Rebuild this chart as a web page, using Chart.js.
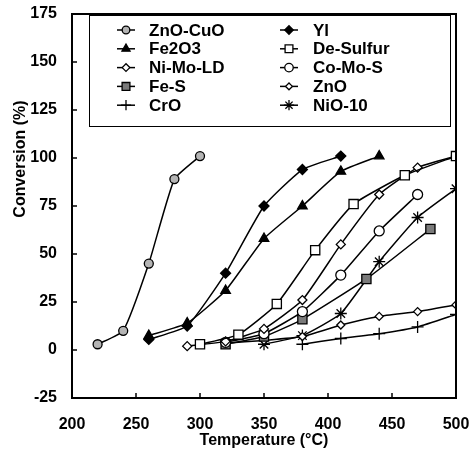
<!DOCTYPE html>
<html>
<head>
<meta charset="utf-8">
<script src="https://cdn.jsdelivr.net/npm/chart.js@4/dist/chart.umd.min.js"></script>
<style>
	html, body { margin: 0; padding: 0; background: #fff; }
</style>
</head>
<body>
<canvas id="conversion_chart" width="470" height="458"></canvas>
<script>
/* temperatures (C) and conversions (%) */
var tZnOCuO = [220, 240, 260, 280, 300];
var cZnOCuO = [3, 10, 45, 89, 101];
var tYl = [260, 290, 320, 350, 380, 410];
var cYl = [5.5, 12.5, 40, 75, 94, 101];
var tFe2O3 = [260, 290, 320, 350, 380, 410, 440];
var cFe2O3 = [7.5, 14, 31, 58, 75, 93, 101];
var tDeSulfur = [300, 330, 360, 390, 420, 460, 500];
var cDeSulfur = [3, 8, 24, 52, 76, 91, 101];
var tNiMoLD = [290, 320, 350, 380, 410, 440, 470, 500];
var cNiMoLD = [2, 4.5, 11, 26, 55, 81, 95, 101];
var tCoMoS = [320, 350, 380, 410, 440, 470];
var cCoMoS = [4, 8.5, 20, 39, 62, 81];
var tFeS = [320, 350, 380, 430, 480];
var cFeS = [3, 7, 16, 37, 63];
var tZnO = [320, 350, 380, 410, 440, 470, 500];
var cZnO = [3.5, 5, 7, 13, 17.5, 20, 23.5];
var tCrO = [380, 410, 440, 470, 500];
var cCrO = [3, 6, 8.5, 12, 18.5];
var tNiO10 = [350, 380, 410, 440, 470, 500];
var cNiO10 = [3, 7.5, 19, 46, 69, 84];

var xTicks = [200, 250, 300, 350, 400, 450, 500];
var yTicks = [-25, 0, 25, 50, 75, 100, 125, 150, 175];

function toPoints(xs, ys) {
	var pts = [];
	for (var i = 0; i < xs.length; i++) {
		pts.push({x: xs[i], y: ys[i]});
	}
	return pts;
}

function makeSet(label, xs, ys, style, radius, fill) {
	return {
		label: label,
		data: toPoints(xs, ys),
		showLine: true,
		tension: 0.15,
		borderColor: '#000',
		borderWidth: 1.5,
		pointStyle: style,
		pointRadius: radius,
		pointBackgroundColor: fill,
		pointBorderColor: '#000',
		pointBorderWidth: 1.3
	};
}

var datasets = [
	makeSet('ZnO-CuO', tZnOCuO, cZnOCuO, 'circle', 4.5, '#b4b4b4'),
	makeSet('Yl', tYl, cYl, 'rectRot', 5, '#000'),
	makeSet('Fe2O3', tFe2O3, cFe2O3, 'triangle', 5.5, '#000'),
	makeSet('De-Sulfur', tDeSulfur, cDeSulfur, 'rect', 6.5, '#fff'),
	makeSet('Ni-Mo-LD', tNiMoLD, cNiMoLD, 'rectRot', 4.5, '#fff'),
	makeSet('Co-Mo-S', tCoMoS, cCoMoS, 'circle', 5, '#fff'),
	makeSet('Fe-S', tFeS, cFeS, 'rect', 6.5, '#7a7a7a'),
	makeSet('ZnO', tZnO, cZnO, 'rectRot', 4, '#fff'),
	makeSet('CrO', tCrO, cCrO, 'cross', 6, '#000'),
	makeSet('NiO-10', tNiO10, cNiO10, 'star', 6, '#000')
];

function noOverhang(scale) {
	scale.paddingLeft = 0;
	scale.paddingRight = 0;
	scale.paddingTop = 0;
	scale.paddingBottom = 0;
}

/* frame, inward ticks, legend box and y title */
var framePlugin = {
	id: 'framePlugin',
	afterDraw: function (chart) {
		var ctx = chart.ctx;
		var area = chart.chartArea;
		var xs = chart.scales.x;
		var ys = chart.scales.y;
		ctx.save();
		ctx.strokeStyle = '#000';
		ctx.lineWidth = 2;
		ctx.strokeRect(area.left, area.top, area.right - area.left, area.bottom - area.top);

		ctx.lineWidth = 1.5;
		ctx.beginPath();
		xTicks.forEach(function (v) {
			var px = xs.getPixelForValue(v);
			ctx.moveTo(px, area.bottom);
			ctx.lineTo(px, area.bottom - 5);
		});
		yTicks.forEach(function (v) {
			var py = ys.getPixelForValue(v);
			ctx.moveTo(area.left, py);
			ctx.lineTo(area.left + 5, py);
		});
		ctx.stroke();

		// legend
		ctx.lineWidth = 1;
		ctx.strokeRect(89.5, 15.5, 361, 111);
		ctx.font = 'bold 17px "Liberation Sans", Arial, sans-serif';
		ctx.textBaseline = 'middle';
		ctx.textAlign = 'left';
		var lineX = [[117, 135], [280, 298]];
		var textX = [149, 313];
		chart.data.datasets.forEach(function (ds, i) {
			var col = i % 2;
			var row = Math.floor(i / 2);
			var y = 30 + row * 18.8;
			ctx.strokeStyle = '#000';
			ctx.lineWidth = 1.5;
			ctx.beginPath();
			ctx.moveTo(lineX[col][0], y);
			ctx.lineTo(lineX[col][1], y);
			ctx.stroke();
			ctx.fillStyle = ds.pointBackgroundColor;
			ctx.lineWidth = ds.pointBorderWidth;
			Chart.helpers.drawPoint(ctx, {
				pointStyle: ds.pointStyle,
				radius: ds.pointRadius * 0.85,
				borderWidth: ds.pointBorderWidth,
				rotation: 0
			}, (lineX[col][0] + lineX[col][1]) / 2, y);
			ctx.fillStyle = '#000';
			ctx.fillText(ds.label, textX[col], y + 1);
		});

		// y axis title
		ctx.translate(21, 159);
		ctx.rotate(-Math.PI / 2);
		ctx.textAlign = 'center';
		ctx.font = 'bold 16px "Liberation Sans", Arial, sans-serif';
		ctx.fillText('Conversion (%)', 0, 0);
		ctx.restore();
	}
};

Chart.defaults.font.family = '"Liberation Sans", Arial, sans-serif';
Chart.defaults.color = '#000';

var conversion_chart = document.getElementById('conversion_chart');
var ConversionChart = new Chart(conversion_chart, {
	type: 'scatter',
	data: {
		datasets: datasets
	},
	options: {
		responsive: false,
		animation: false,
		layout: {
			padding: {top: 14, right: 14, left: 0, bottom: 0}
		},
		scales: {
			x: {
				type: 'linear',
				min: 200,
				max: 500,
				afterFit: function (scale) { scale.height = 60; noOverhang(scale); },
				afterBuildTicks: function (scale) {
					scale.ticks = xTicks.map(function (v) { return {value: v}; });
				},
				grid: { display: false, drawTicks: false },
				border: { display: false },
				ticks: {
					padding: 17,
					maxRotation: 0,
					font: { size: 16, weight: 'bold' }
				},
				title: {
					display: true,
					text: 'Temperature (°C)',
					padding: { top: 0, bottom: 8 },
					font: { size: 16, weight: 'bold' }
				}
			},
			y: {
				min: -25,
				max: 175,
				afterFit: function (scale) { scale.width = 72; noOverhang(scale); },
				afterBuildTicks: function (scale) {
					scale.ticks = yTicks.map(function (v) { return {value: v}; });
				},
				grid: { display: false, drawTicks: false },
				border: { display: false },
				ticks: {
					padding: 15,
					font: { size: 16, weight: 'bold' }
				}
			}
		},
		plugins: {
			legend: { display: false },
			tooltip: { enabled: false }
		}
	},
	plugins: [framePlugin]
});
</script>
</body>
</html>
